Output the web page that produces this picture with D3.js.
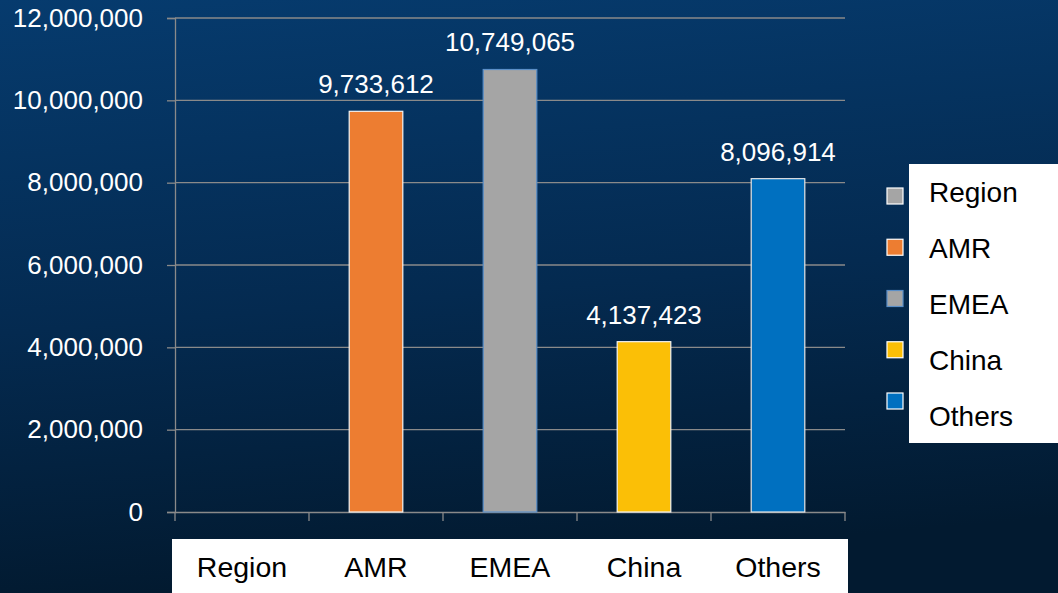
<!DOCTYPE html>
<html>
<head>
<meta charset="utf-8">
<script src="https://cdn.jsdelivr.net/npm/d3@7"></script>
<style>
    body { margin: 0; background: #021a30; }
    #chart { width: 1058px; height: 593px; }
    text { font-family: "Liberation Sans", Arial, sans-serif; }
</style>
</head>
<body>
<div id="chart"></div>
<script>
var categories = ["Region", "AMR", "EMEA", "China", "Others"];
var values = [null, 9733612, 10749065, 4137423, 8096914];
var colors = ["#A5A5A5", "#ED7D31", "#A5A5A5", "#FBBF06", "#0070C0"];
var borders = ["#ffffff", "#f4f4f4", "#5b8fc8", "#f4f4f4", "#e6e6e6"];
var yTicks = [0, 2000000, 4000000, 6000000, 8000000, 10000000, 12000000];

var width = 1058, height = 593;
var margin = { top: 18, left: 175, right: 213, bottom: 81 };

var svg = d3.select("#chart")
    .append("svg")
    .attr("width", width)
    .attr("height", height);

/*
BACKGROUND
*/
var defs = svg.append("defs");
var grad = defs.append("linearGradient")
    .attr("id", "bg")
    .attr("x1", 0).attr("y1", 0).attr("x2", 0.15).attr("y2", 1);
grad.append("stop").attr("offset", "0%").attr("stop-color", "#063b6e");
grad.append("stop").attr("offset", "55%").attr("stop-color", "#042a50");
grad.append("stop").attr("offset", "100%").attr("stop-color", "#021a30");

svg.append("rect")
    .attr("width", width)
    .attr("height", height)
    .attr("fill", "url(#bg)");

/*
SCALES
*/
var xScale = d3.scaleBand()
    .domain(categories)
    .range([margin.left, width - margin.right])
    .padding(0);

var yScale = d3.scaleLinear()
    .domain([0, 12000000])
    .range([height - margin.bottom, margin.top]);

var fmt = d3.format(",");

/*
GRIDLINES + Y AXIS
*/
var yAxis = svg.append("g")
    .attr("transform", `translate(${margin.left},0)`)
    .call(d3.axisLeft(yScale)
        .tickValues(yTicks)
        .tickFormat(fmt)
        .tickSize(8)
        .tickPadding(24));

yAxis.select(".domain").attr("stroke", "#8a8a8a").attr("stroke-width", 1.3);
yAxis.selectAll(".tick line").attr("stroke", "#8a8a8a").attr("stroke-width", 1.3);
yAxis.selectAll(".tick text")
    .attr("fill", "#ffffff")
    .attr("font-size", 26)
    .style("font-family", "Liberation Sans, Arial, sans-serif");

svg.append("g")
    .selectAll("line")
    .data(yTicks.filter(function(d) { return d > 0; }))
    .enter()
    .append("line")
    .attr("x1", margin.left)
    .attr("x2", width - margin.right)
    .attr("y1", function(d) { return yScale(d); })
    .attr("y2", function(d) { return yScale(d); })
    .attr("stroke", "#8a8a8a")
    .attr("stroke-width", 1.3);

/*
X AXIS
*/
var xAxis = svg.append("g")
    .attr("transform", `translate(0,${height - margin.bottom})`)
    .call(d3.axisBottom(xScale).tickSize(0).tickFormat(""));
xAxis.select(".domain").attr("stroke", "#8a8a8a").attr("stroke-width", 1.3);

var edges = categories.map(function(c) { return xScale(c); })
    .concat([xScale.range()[1]]);
svg.append("g")
    .selectAll("line")
    .data(edges)
    .enter()
    .append("line")
    .attr("x1", function(d) { return d; })
    .attr("x2", function(d) { return d; })
    .attr("y1", height - margin.bottom)
    .attr("y2", height - margin.bottom + 9)
    .attr("stroke", "#8a8a8a")
    .attr("stroke-width", 1.3);

/*
BARS
*/
var barW = xScale.bandwidth() * 0.4;
var barData = categories.map(function(c, i) {
    return { name: c, value: values[i], color: colors[i], border: borders[i] };
}).filter(function(d) { return d.value != null; });

svg.selectAll(".bar")
    .data(barData)
    .enter()
    .append("rect")
    .attr("class", "bar")
    .attr("x", function(d) { return xScale(d.name) + (xScale.bandwidth() - barW) / 2; })
    .attr("y", function(d) { return yScale(d.value); })
    .attr("width", barW)
    .attr("height", function(d) { return yScale(0) - yScale(d.value); })
    .attr("fill", function(d) { return d.color; })
    .attr("stroke", function(d) { return d.border; })
    .attr("stroke-width", 1.2);

svg.selectAll(".val")
    .data(barData)
    .enter()
    .append("text")
    .attr("class", "val")
    .attr("x", function(d) { return xScale(d.name) + xScale.bandwidth() / 2; })
    .attr("y", function(d) { return yScale(d.value) - 18; })
    .attr("text-anchor", "middle")
    .attr("fill", "#ffffff")
    .attr("font-size", 26)
    .text(function(d) { return fmt(d.value); });

/*
CATEGORY LABEL BOX
*/
svg.append("rect")
    .attr("x", margin.left - 3)
    .attr("y", 539)
    .attr("width", xScale.range()[1] - margin.left + 6)
    .attr("height", height - 539)
    .attr("fill", "#ffffff");

svg.selectAll(".cat")
    .data(categories)
    .enter()
    .append("text")
    .attr("class", "cat")
    .attr("x", function(d) { return xScale(d) + xScale.bandwidth() / 2; })
    .attr("y", 577)
    .attr("text-anchor", "middle")
    .attr("fill", "#000000")
    .attr("font-size", 28.5)
    .text(function(d) { return d; });

/*
LEGEND
*/
svg.append("rect")
    .attr("x", 909)
    .attr("y", 164)
    .attr("width", width - 909)
    .attr("height", 279)
    .attr("fill", "#ffffff");

var legend = svg.selectAll(".legend")
    .data(categories)
    .enter()
    .append("g")
    .attr("class", "legend");

legend.append("rect")
    .attr("x", 887)
    .attr("y", function(d, i) { return 188 + i * 51.25; })
    .attr("width", 16)
    .attr("height", 16)
    .attr("fill", function(d, i) { return colors[i]; })
    .attr("stroke", function(d, i) { return i == 2 ? "#5b8fc8" : "#ffffff"; })
    .attr("stroke-width", 1.2);

legend.append("text")
    .attr("x", 929)
    .attr("y", function(d, i) { return 202 + i * 56; })
    .attr("fill", "#000000")
    .attr("font-size", 28)
    .text(function(d) { return d; });
</script>
</body>
</html>
